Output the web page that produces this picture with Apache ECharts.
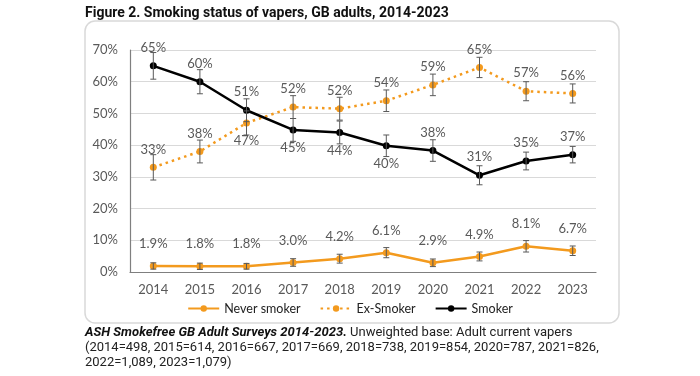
<!DOCTYPE html>
<html>
<head>
<meta charset="utf-8">
<script src="https://cdn.jsdelivr.net/npm/echarts@6/dist/echarts.min.js"></script>
<style>
  html, body { margin: 0; padding: 0; background: #fff; }
  #chart { width: 700px; height: 376px; }
</style>
</head>
<body>
<div id="chart"></div>
<script>
let years = ['2014', '2015', '2016', '2017', '2018', '2019', '2020', '2021', '2022', '2023']
let yTicks = [0, 10, 20, 30, 40, 50, 60, 70]

let neverSmoker = [1.9, 1.8, 1.8, 3.0, 4.2, 6.1, 2.9, 4.9, 8.1, 6.7]
let neverErr = [1.0, 1.0, 0.9, 1.2, 1.4, 1.6, 1.2, 1.4, 1.8, 1.5]

let exSmoker = [33, 38, 47, 52, 51.5, 54, 59, 64.5, 57, 56.3]
let exErr = [4.0, 3.6, 3.8, 3.6, 3.6, 3.4, 3.4, 3.2, 3.0, 3.0]
let exBelow = ['2016']

let smoker = [65, 60, 51, 44.8, 44, 39.8, 38.3, 30.5, 35, 37]
let smokerErr = [4.2, 3.8, 3.6, 3.6, 3.6, 3.4, 3.4, 3.0, 2.8, 2.6]
let smokerBelow = ['2017', '2018', '2019']

let orange = '#f39a1e'
let grey = '#595959'
let font = 'Lato'

let chart = echarts.init(document.getElementById('chart'))

function lineData(values, below) {
  return values.map((v, i) => below.indexOf(years[i]) >= 0
    ? {value: v, label: {position: 'bottom'}}
    : v)
}

function errData(values, errs) {
  return values.map((v, i) => [i, v - errs[i], v + errs[i]])
}

function renderErr(params, api) {
  let lo = api.coord([api.value(0), api.value(1)])
  let hi = api.coord([api.value(0), api.value(2)])
  let hw = 3
  let style = {stroke: grey, lineWidth: 1}
  return {
    type: 'group',
    children: [
      {type: 'line', shape: {x1: lo[0], y1: lo[1], x2: hi[0], y2: hi[1]}, style: style},
      {type: 'line', shape: {x1: lo[0] - hw, y1: lo[1], x2: lo[0] + hw, y2: lo[1]}, style: style},
      {type: 'line', shape: {x1: hi[0] - hw, y1: hi[1], x2: hi[0] + hw, y2: hi[1]}, style: style}
    ]
  }
}

function errSeries(values, errs) {
  return {
    type: 'custom',
    renderItem: renderErr,
    data: errData(values, errs),
    z: 5,
    silent: true
  }
}

let labelBase = {
  show: true,
  color: grey,
  fontSize: 13,
  fontFamily: font
}

let option = {
  animation: false,
  textStyle: {fontFamily: font},
  graphic: [
    {
      type: 'rect',
      shape: {x: 85, y: 21, width: 534, height: 302, r: 10},
      style: {fill: 'none', stroke: '#d9d9d9', lineWidth: 1.5},
      z: -1
    },
    {
      type: 'text',
      left: 85,
      top: 6,
      style: {
        text: 'Figure 2. Smoking status of vapers, GB adults, 2014-2023',
        font: 'bold 14px Roboto',
        fill: '#111'
      }
    },
    {
      type: 'text',
      left: 85,
      top: 325,
      style: {
        text: '{b|ASH Smokefree GB Adult Surveys 2014-2023.} Unweighted base: Adult current vapers\n' +
          '(2014=498, 2015=614, 2016=667, 2017=669, 2018=738, 2019=854, 2020=787, 2021=826,\n' +
          '2022=1,089, 2023=1,079)',
        font: '13px Roboto',
        fill: '#222',
        lineHeight: 15,
        rich: {
          b: {font: 'italic bold 13px Roboto', fill: '#111', lineHeight: 15}
        }
      }
    }
  ],
  legend: {
    data: ['Never smoker', 'Ex-Smoker', 'Smoker'],
    bottom: 56,
    left: 'center',
    itemWidth: 31,
    itemHeight: 8,
    itemGap: 19,
    textStyle: {fontSize: 12.5, color: '#222', fontFamily: font}
  },
  grid: {left: 130, right: 104, top: 50, bottom: 104},
  xAxis: {
    type: 'category',
    data: years,
    axisLine: {lineStyle: {color: '#7f7f7f', width: 1.2}},
    axisTick: {alignWithLabel: true, length: 5, lineStyle: {color: '#7f7f7f'}},
    axisLabel: {color: grey, fontSize: 13, margin: 11, fontFamily: font}
  },
  yAxis: {
    type: 'value',
    min: yTicks[0],
    max: yTicks[yTicks.length - 1],
    interval: 10,
    axisLine: {show: true, lineStyle: {color: '#7f7f7f', width: 1.2}},
    axisTick: {show: false},
    axisLabel: {color: grey, fontSize: 13, margin: 12, fontFamily: font, formatter: '{value}%'},
    splitLine: {lineStyle: {color: '#d9d9d9'}}
  },
  series: [
    {
      name: 'Never smoker',
      type: 'line',
      data: neverSmoker,
      color: orange,
      symbol: 'circle',
      symbolSize: 7,
      lineStyle: {width: 2.5, color: orange},
      label: Object.assign({}, labelBase, {position: 'top', distance: 12, formatter: p => p.value.toFixed(1) + '%'}),
      z: 3
    },
    {
      name: 'Ex-Smoker',
      type: 'line',
      data: lineData(exSmoker, exBelow),
      color: orange,
      symbol: 'circle',
      symbolSize: 7,
      lineStyle: {width: 2.5, color: orange, type: [2.5, 4]},
      label: Object.assign({}, labelBase, {position: 'top', distance: 8, formatter: p => Math.round(p.value) + '%'}),
      z: 3
    },
    {
      name: 'Smoker',
      type: 'line',
      data: lineData(smoker, smokerBelow),
      color: '#000',
      symbol: 'circle',
      symbolSize: 7,
      lineStyle: {width: 2.5, color: '#000'},
      label: Object.assign({}, labelBase, {position: 'top', distance: 8, formatter: p => Math.round(p.value) + '%'}),
      z: 3
    },
    errSeries(neverSmoker, neverErr),
    errSeries(exSmoker, exErr),
    errSeries(smoker, smokerErr)
  ]
}

chart.setOption(option)
</script>
</body>
</html>
